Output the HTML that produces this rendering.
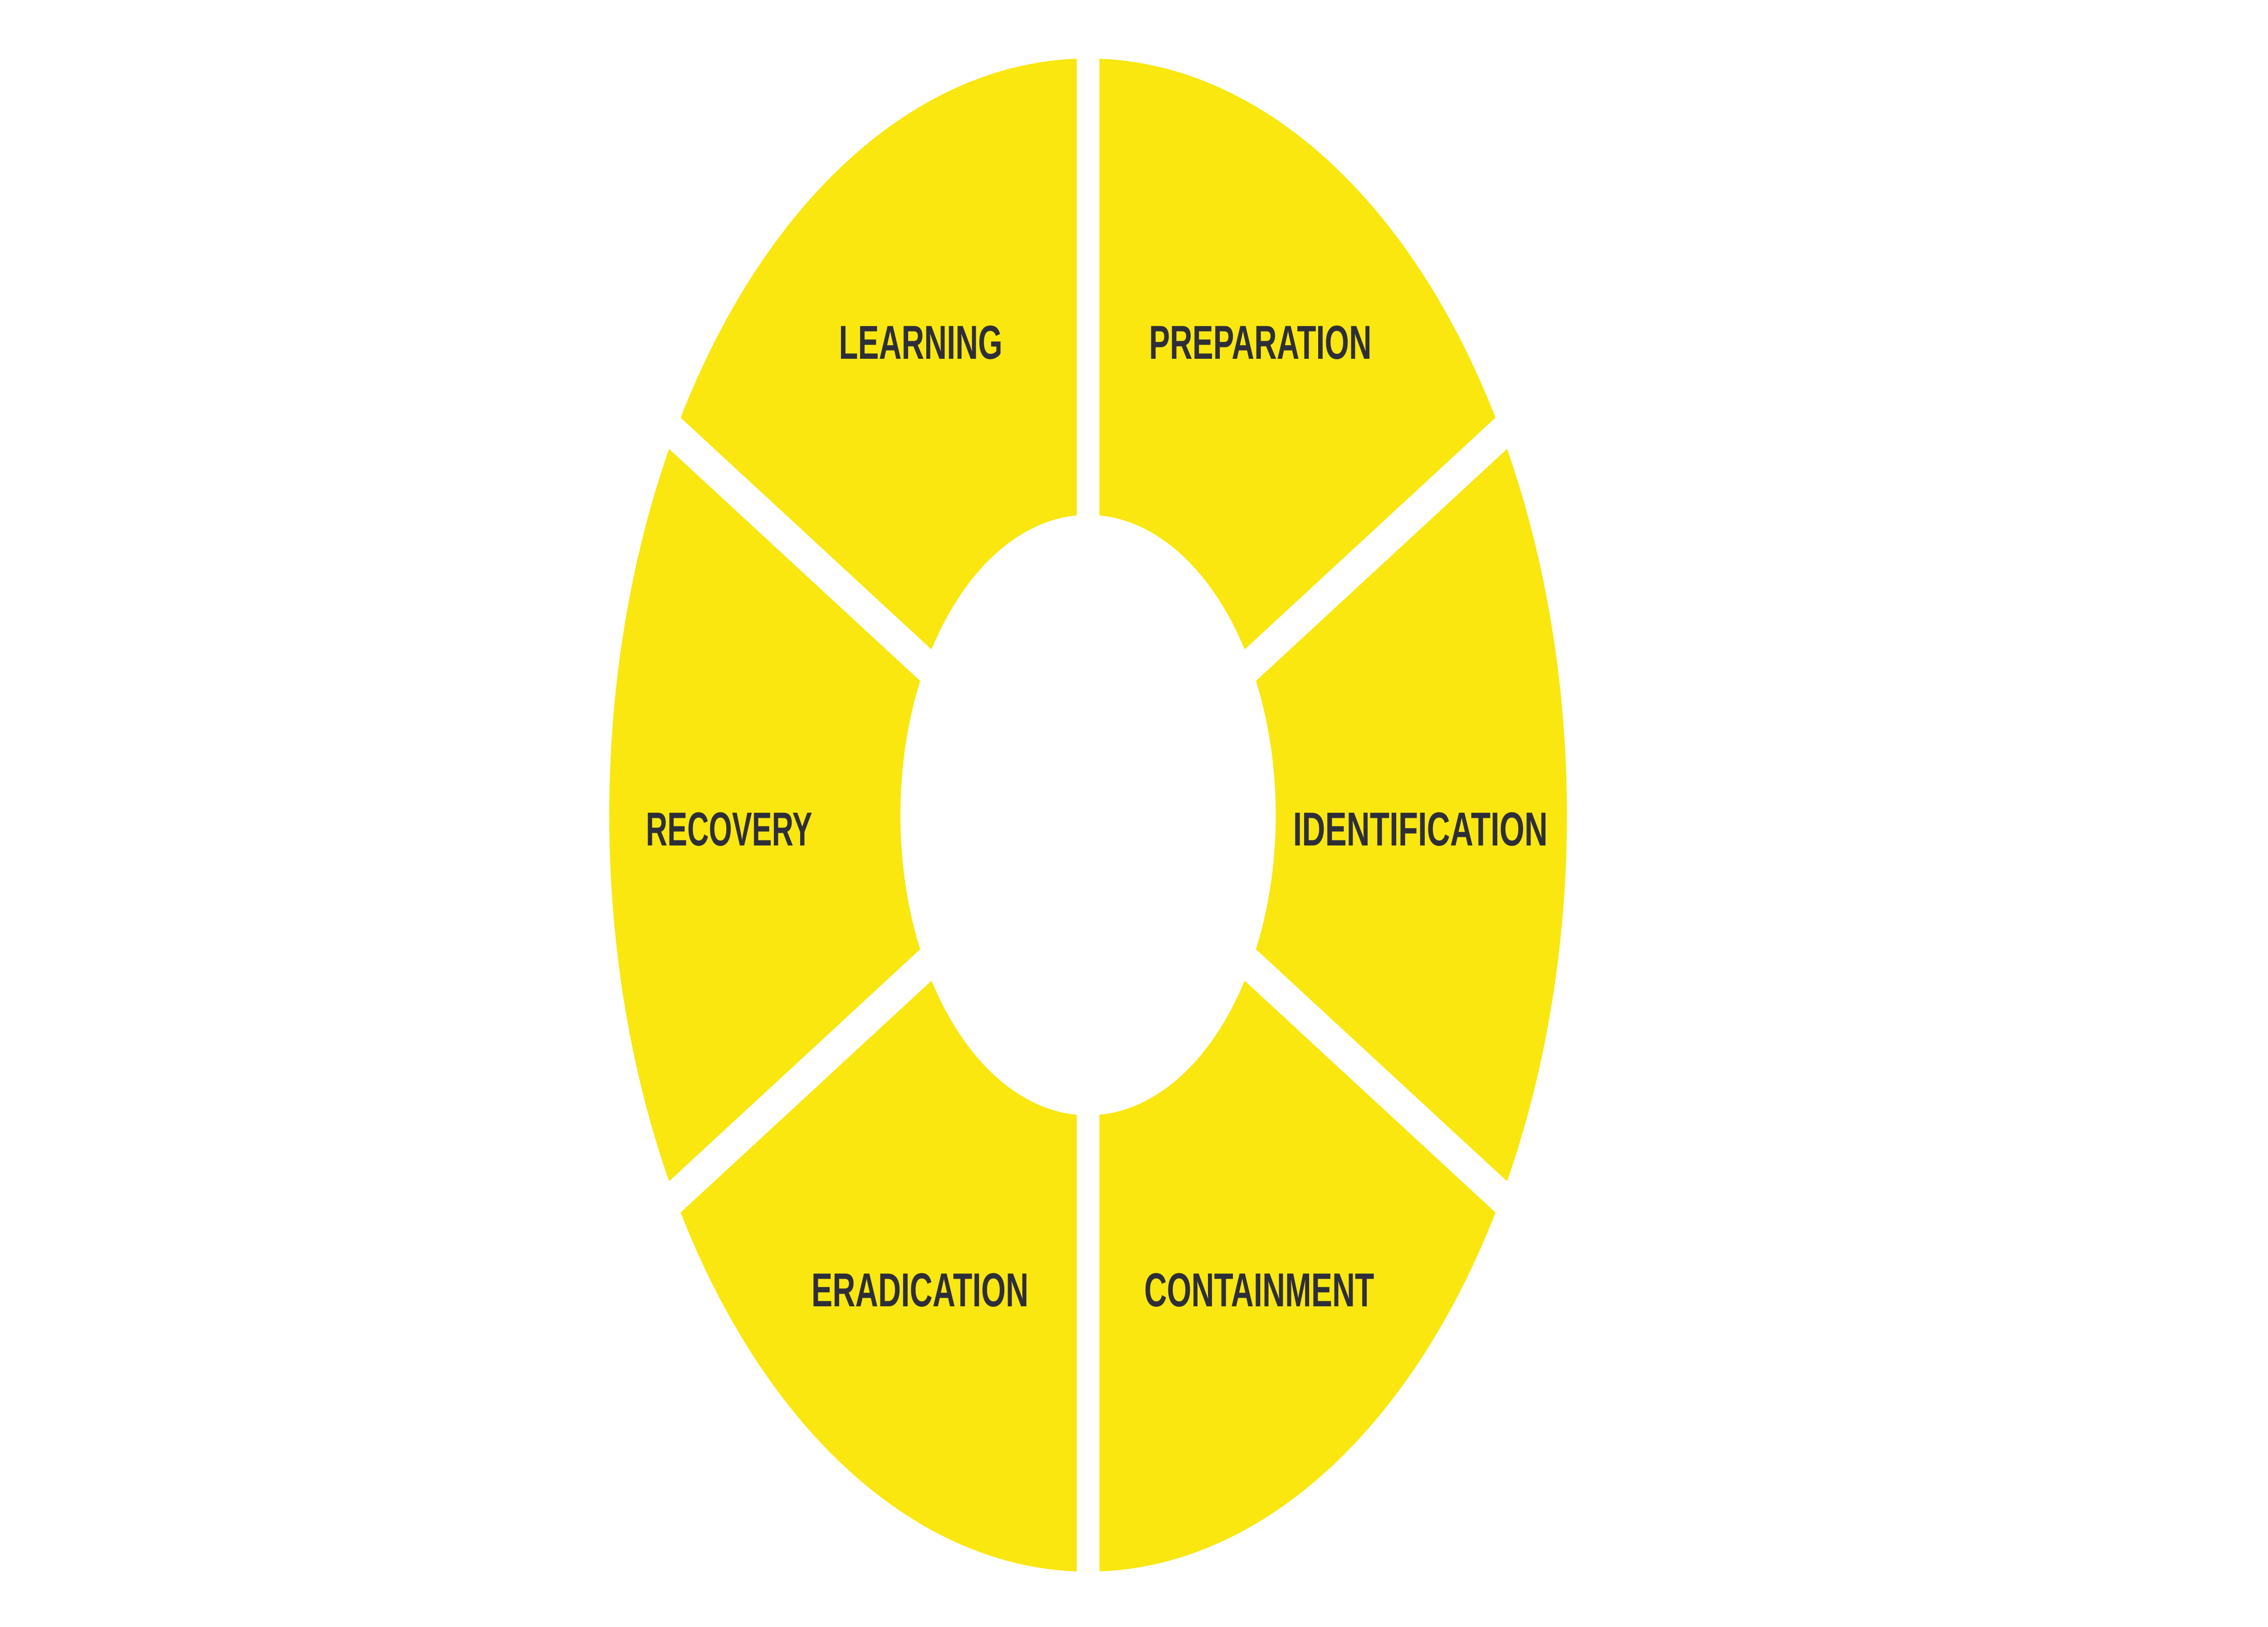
<!DOCTYPE html>
<html><head><meta charset="utf-8"><style>
html,body{margin:0;padding:0;background:#fff;width:100%;height:100%;overflow:hidden;}
svg{display:block;position:fixed;left:0;top:0;width:100vw;height:100vh;}
text{font-family:"Liberation Sans",sans-serif;font-weight:bold;fill:#2e2e38;font-size:105px;}
</style></head><body>
<svg viewBox="0 0 8000 3587" preserveAspectRatio="none" xmlns="http://www.w3.org/2000/svg">
<rect width="8000" height="3587" fill="#fff"/>
<ellipse cx="3838" cy="1797" rx="1689" ry="1668" fill="#F9E70F"/>
<g stroke="#fff" stroke-width="80">
<line x1="3838" y1="-100" x2="3838" y2="3700"/>
<line x1="3838" y1="1797" x2="5838" y2="642" />
<line x1="3838" y1="1797" x2="1838" y2="2952" />
<line x1="3838" y1="1797" x2="5838" y2="2952" />
<line x1="3838" y1="1797" x2="1838" y2="642" />
</g>
<circle cx="3838" cy="1797" r="662" fill="#fff"/>
<text x="4053" y="791" textLength="785" lengthAdjust="spacingAndGlyphs">PREPARATION</text>
<text x="2959" y="791" textLength="577" lengthAdjust="spacingAndGlyphs">LEARNING</text>
<text x="4561" y="1864" textLength="898" lengthAdjust="spacingAndGlyphs">IDENTIFICATION</text>
<text x="2278" y="1864" textLength="587" lengthAdjust="spacingAndGlyphs">RECOVERY</text>
<text x="2862" y="2880" textLength="766" lengthAdjust="spacingAndGlyphs">ERADICATION</text>
<text x="4036" y="2880" textLength="811" lengthAdjust="spacingAndGlyphs">CONTAINMENT</text>
</svg>
</body></html>
